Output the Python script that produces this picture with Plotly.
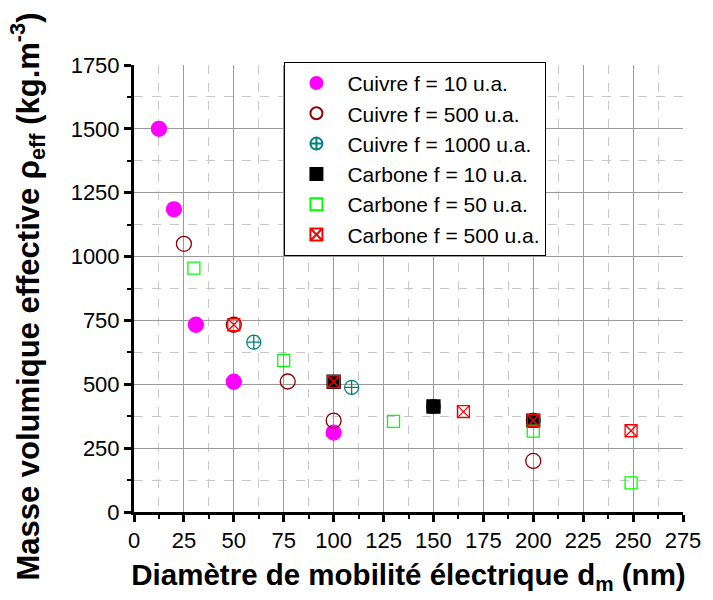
import plotly.graph_objects as go

# Effective density vs. electrical mobility diameter
cu10_x = [12.5, 20, 31, 50, 100]
cu10_y = [1500, 1185, 733, 510, 311]

cu500_x = [25, 50, 77, 100, 200]
cu500_y = [1050, 733, 511, 358, 200]

cu1000_x = [60, 109, 150, 200]
cu1000_y = [665, 488, 413, 360]

c10_x = [100, 150, 200]
c10_y = [510, 413, 358]

c50_x = [30, 75, 130, 200, 249]
c50_y = [955, 594, 355, 317, 114]

c500_x = [50, 100, 165, 200, 249]
c500_y = [733, 510, 393, 358, 318]

series = [
    ("Cuivre f = 10 u.a.", cu10_x, cu10_y, "circle", "#ff00ff", 15),
    ("Cuivre f = 500 u.a.", cu500_x, cu500_y, "circle-open", "#8b0000", 15),
    ("Cuivre f = 1000 u.a.", cu1000_x, cu1000_y, "circle-cross-open", "#008080", 14),
    ("Carbone f = 10 u.a.", c10_x, c10_y, "square", "#000000", 13),
    ("Carbone f = 50 u.a.", c50_x, c50_y, "square-open", "#00ff00", 12),
    ("Carbone f = 500 u.a.", c500_x, c500_y, "square-x-open", "#ff0000", 12),
]

FONT = "Arial, Liberation Sans, sans-serif"

fig = go.Figure()
for name, xs, ys, sym, col, sz in series:
    fig.add_trace(go.Scatter(
        x=xs, y=ys, mode="markers", name=name,
        marker=dict(symbol=sym, color=col, size=sz,
                    line=dict(color=col, width=1.3)),
    ))

axis_common = dict(
    showline=True, linecolor="black", linewidth=3,
    ticks="outside", ticklen=7, tickwidth=2.5, tickcolor="black",
    showgrid=True, gridcolor="#9a9a9a", gridwidth=1.2,
    zeroline=False, mirror=False,
    tickfont=dict(family=FONT, size=22, color="black"),
)

fig.update_xaxes(
    range=[0, 275], tick0=0, dtick=25, **axis_common,
    minor=dict(dtick=12.5, ticks="outside", ticklen=4, tickwidth=2,
               tickcolor="black", showgrid=True, gridcolor="#c8c8c8",
               griddash="dash", gridwidth=1),
    title=dict(text="<b>Diamètre de mobilité électrique d<sub>m</sub> (nm)</b>",
               font=dict(family=FONT, size=29.5, color="black"), standoff=12),
)
fig.update_yaxes(
    range=[0, 1750], tick0=0, dtick=250, **axis_common,
    minor=dict(dtick=125, ticks="outside", ticklen=4, tickwidth=2,
               tickcolor="black", showgrid=True, gridcolor="#c8c8c8",
               griddash="dash", gridwidth=1),
)

# Vertical axis title, placed as a rotated annotation left of the tick labels
fig.add_annotation(
    text="<b>Masse volumique effective ρ<sub>eff</sub> (kg.m<sup>-3</sup>)</b>",
    xref="paper", yref="paper", x=-0.193, y=0.482,
    xanchor="center", yanchor="middle", textangle=-90, showarrow=False,
    font=dict(family=FONT, size=31, color="black"),
)

fig.update_layout(
    width=713, height=600,
    margin=dict(l=134, r=24, t=65, b=88),
    paper_bgcolor="white", plot_bgcolor="white",
    showlegend=True,
    legend=dict(
        x=0.274, y=1.007, xanchor="left", yanchor="top",
        bgcolor="white", bordercolor="black", borderwidth=1,
        font=dict(family=FONT, size=21, color="black"),
        tracegroupgap=0, itemsizing="constant", itemwidth=52,
    ),
)

fig.write_html("out.html")
